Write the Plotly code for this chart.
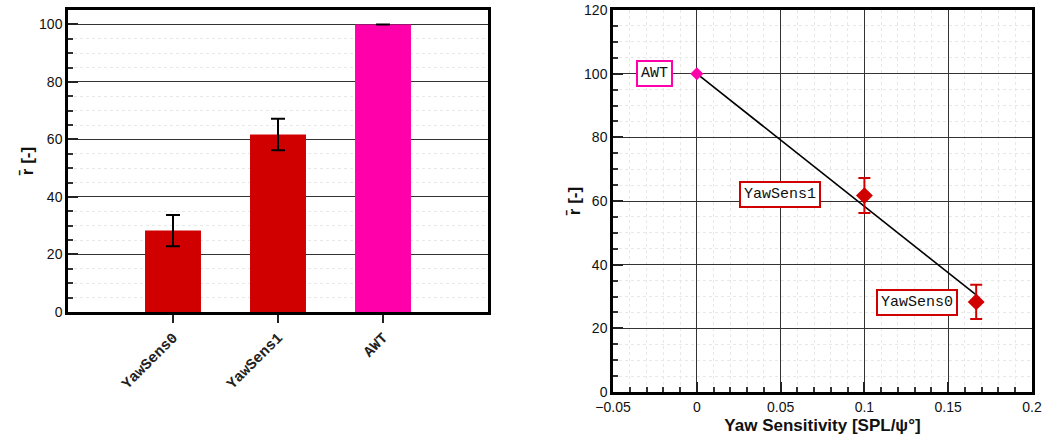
import plotly.graph_objects as go

# ---- data ----
categories = ["YawSens0", "YawSens1", "AWT"]
r_mean = [28.3, 61.7, 100.0]
r_err = [5.4, 5.5, 0.0]
bar_colors = ["#d10000", "#d10000", "#ff00aa"]

yaw_sens = [0.1667, 0.1, 0.0]          # x of the right panel, same order as categories
fit_x = [0.0, 0.1667]
fit_y = [100.0, 30.5]
label_x = [0.1312, 0.0496, -0.0255]
label_y = [28.2, 62.2, 100.0]

RED = "#d10000"
MAG = "#ff00aa"
NUM_FONT = dict(family="Liberation Sans, Arial", size=14, color="#111")
MONO = "Liberation Mono, Courier New, monospace"

W, H = 1045, 442


def xd(a, b):
    return [a / W, b / W]


def yd(top, bottom):
    return [(H - bottom) / H, (H - top) / H]


fig = go.Figure()

# left: bars
fig.add_trace(go.Bar(
    x=categories, y=r_mean, marker=dict(color=bar_colors, line=dict(width=0)),
    width=0.533,
    error_y=dict(type="data", array=r_err, color="black", thickness=2, width=7),
    xaxis="x", yaxis="y", showlegend=False))

# right: fit line
fig.add_trace(go.Scatter(
    x=fit_x, y=fit_y, mode="lines", line=dict(color="black", width=1.6),
    xaxis="x2", yaxis="y2", showlegend=False))

# right: points
pt_colors = [RED, RED, MAG]
pt_sizes = [13, 13, 10]
for i in range(len(categories)):
    fig.add_trace(go.Scatter(
        x=[yaw_sens[i]], y=[r_mean[i]], mode="markers",
        marker=dict(symbol="diamond", size=pt_sizes[i], color=pt_colors[i]),
        error_y=dict(type="data", array=[r_err[i]], color=pt_colors[i],
                     thickness=2, width=6, visible=r_err[i] > 0),
        xaxis="x2", yaxis="y2", showlegend=False))

# label boxes
for i in range(len(categories)):
    fig.add_annotation(
        x=label_x[i], y=label_y[i], xref="x2", yref="y2", text=categories[i],
        showarrow=False, font=dict(family=MONO, size=15, color="#111"),
        bgcolor="white", bordercolor=pt_colors[i], borderwidth=2, borderpad=3)

minor_grid = dict(showgrid=True, griddash="dot", gridcolor="#e8e8e8", gridwidth=1,
                  ticks="inside", ticklen=5, tickcolor="#333")

fig.update_layout(
    width=W, height=H, autosize=False,
    margin=dict(l=0, r=0, t=0, b=0),
    paper_bgcolor="white", plot_bgcolor="white",
    xaxis=dict(domain=xd(68, 488), anchor="y", type="category",
               automargin=False,
               range=[-1, 3], showgrid=False, ticks="outside", ticklen=8,
               tickwidth=2, tickcolor="#222", tickangle=-45,
               tickfont=dict(family=MONO, size=15, color="#222", weight="bold"),
               showline=True, linecolor="black", linewidth=2.5, mirror=True,
               zeroline=False),
    yaxis=dict(domain=yd(10, 312), anchor="x",
               automargin=False,
               range=[0, 105], dtick=20, tick0=0, ticks="inside", ticklen=10,
               tickwidth=2, tickcolor="#222",
               showgrid=True, gridcolor="#333", gridwidth=1,
               minor=dict(dtick=5, **minor_grid),
               tickfont=NUM_FONT, showline=True, linecolor="black",
               linewidth=2.5, mirror=True, zeroline=False,
               title=dict(text="r\u0304 [-]", standoff=2,
                          font=dict(family="Liberation Sans, Arial", size=17,
                                    color="#111", weight="bold"))),
    xaxis2=dict(domain=xd(613, 1032), anchor="y2",
                automargin=False,
                range=[-0.05, 0.2], dtick=0.05, tick0=0, ticks="inside",
                ticklen=10, tickwidth=1.5, tickcolor="#222",
                showgrid=True, gridcolor="#333", gridwidth=1,
                minor=dict(dtick=0.01, **minor_grid),
                tickfont=NUM_FONT, showline=True, linecolor="black",
                linewidth=2.5, mirror=True, zeroline=False,
                title=dict(text="Yaw Sensitivity [SPL/\u03c8\u00b0]", standoff=6,
                           font=dict(family="Liberation Sans, Arial", size=17,
                                     color="#111", weight="bold"))),
    yaxis2=dict(domain=yd(10, 392), anchor="x2",
                automargin=False,
                range=[0, 120], dtick=20, tick0=0, ticks="inside", ticklen=10,
                tickwidth=1.5, tickcolor="#222",
                showgrid=True, gridcolor="#333", gridwidth=1,
                minor=dict(dtick=5, **minor_grid),
                tickfont=NUM_FONT, showline=True, linecolor="black",
                linewidth=2.5, mirror=True, zeroline=False,
                title=dict(text="r\u0304 [-]", standoff=0,
                           font=dict(family="Liberation Sans, Arial", size=17,
                                     color="#111", weight="bold"))),
)

# remove the page's default body margin so the figure fills the window
fig.write_html("out.html",
               config={"displayModeBar": False},
               post_script="document.body.style.margin='0px';"
                           "document.body.style.overflow='hidden';")
